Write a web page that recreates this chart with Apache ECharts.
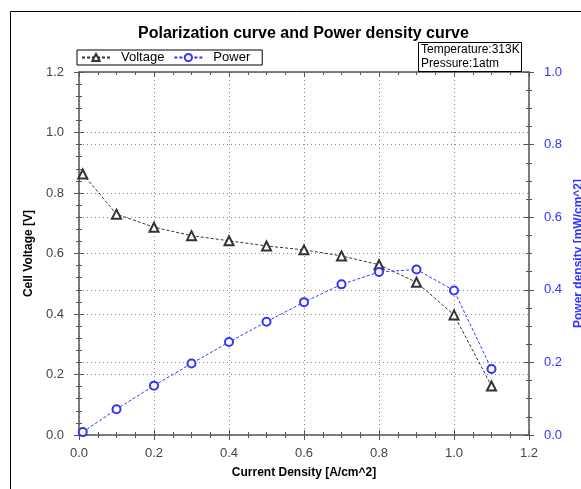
<!DOCTYPE html>
<html style="height: 100%">
<head>
    <meta charset="utf-8">
    <title>Polarization curve</title>
    <script type="text/javascript" src="https://cdn.jsdelivr.net/npm/echarts@6/dist/echarts.min.js"></script>
</head>
<body style="height: 100%; margin: 0; background: #fff">
    <div id="container" style="width: 581px; height: 489px"></div>
    <script type="text/javascript">
        // current density [A/cm^2]
        var current = [0.01, 0.1, 0.2, 0.3, 0.4, 0.5, 0.6, 0.7, 0.8, 0.9, 1.0, 1.1];
        // cell voltage [V]
        var voltage = [0.863, 0.73, 0.687, 0.659, 0.642, 0.625, 0.612, 0.592, 0.563, 0.505, 0.397, 0.162];
        // power density [mW/cm^2]
        var power = [0.008, 0.071, 0.136, 0.197, 0.256, 0.312, 0.366, 0.415, 0.449, 0.456, 0.398, 0.182];

        var font = 'Liberation Sans, Arial, sans-serif';
        var axisColor = '#555';
        var gridLine = { show: true, lineStyle: { color: '#888', type: [1, 3], width: 1 } };

        function pairs(xs, ys) {
            var out = [];
            for (var i = 0; i < xs.length; i++) out.push([xs[i], ys[i]]);
            return out;
        }

        // base x axis: inside ticks + labels; extra copies give the crossing ticks and top frame
        function xAx(pos, inside, main) {
            return {
                type: 'value', min: 0, max: 1.2, interval: 0.2, position: pos,
                axisLine: { show: main || pos === 'top', onZero: false, lineStyle: { color: axisColor, width: 1.5 } },
                axisTick: { show: true, inside: inside, length: 5, lineStyle: { color: axisColor } },
                minorTick: { show: true, splitNumber: 4, length: 3, lineStyle: { color: axisColor } },
                axisLabel: {
                    show: !!main, margin: 12, color: '#444', fontSize: 13, fontFamily: font,
                    formatter: function (v) { return v.toFixed(1); }
                },
                splitLine: main ? gridLine : { show: false },
                name: main ? 'Current Density [A/cm^2]' : '',
                nameLocation: 'middle', nameGap: 32,
                nameTextStyle: { color: '#000', fontWeight: 'bold', fontSize: 12, fontFamily: font }
            };
        }

        function yAx(pos, max, minor, inside, main, color, name, gap) {
            return {
                type: 'value', min: 0, max: max, interval: 0.2, position: pos,
                axisLine: { show: !!main, onZero: false, lineStyle: { color: axisColor, width: 1.5 } },
                axisTick: { show: true, inside: inside, length: 5, lineStyle: { color: axisColor } },
                minorTick: { show: true, splitNumber: minor, length: 3, lineStyle: { color: axisColor } },
                axisLabel: {
                    show: !!main, margin: 15, color: color, fontSize: 13, fontFamily: font,
                    formatter: function (v) { return v.toFixed(1); }
                },
                splitLine: main ? gridLine : { show: false },
                name: main ? name : '',
                nameLocation: 'middle', nameGap: gap,
                nameTextStyle: { color: color === '#444' ? '#000' : color, fontWeight: 'bold', fontSize: 12, fontFamily: font }
            };
        }

        var myChart = echarts.init(document.getElementById('container'));
        var option = {
            animation: false,
            title: [{
                text: 'Polarization curve and Power density curve',
                left: 133, top: 21,
                textStyle: { fontSize: 16, fontWeight: 'bold', color: '#000', fontFamily: font }
            }, {
                text: 'Temperature:313K\nPressure:1atm',
                left: 418, top: 42,
                padding: [1, 2, 1, 3],
                borderColor: '#000', borderWidth: 1,
                textStyle: { fontSize: 12, fontWeight: 'normal', color: '#000', fontFamily: font, lineHeight: 14 }
            }],
            legend: {
                left: 77, top: 50,
                padding: [1, 12, 1, 4],
                borderColor: '#000', borderWidth: 1,
                itemWidth: 28, itemHeight: 9, itemGap: 9,
                textStyle: { fontSize: 13, color: '#000', fontFamily: font, padding: [0, 0, 0, 6] },
                data: ['Voltage', 'Power']
            },
            graphic: [{
                type: 'rect', silent: true,
                shape: { x: 10.5, y: 11.5, width: 700, height: 600 },
                style: { fill: 'none', stroke: '#000', lineWidth: 1 }
            }],
            grid: { left: 79, right: 52, top: 72, bottom: 54, containLabel: false, outerBoundsMode: 'none' },
            xAxis: [xAx('bottom', true, true), xAx('bottom', false, false), xAx('top', true, false)],
            yAxis: [
                yAx('left', 1.2, 5, true, true, '#444', 'Cell Voltage [V]', 44),
                yAx('right', 1.0, 4, true, true, '#3333ff', 'Power density [mW/cm^2]', 41),
                yAx('left', 1.2, 5, false, false, '#444', '', 0),
                yAx('right', 1.0, 4, false, false, '#3333ff', '', 0)
            ],
            series: [{
                name: 'Voltage', type: 'line', xAxisIndex: 0, yAxisIndex: 0,
                symbol: 'emptyTriangle', symbolSize: 9,
                itemStyle: { color: '#333', borderWidth: 0.8 },
                lineStyle: { color: '#333', width: 1, type: [3, 2] },
                data: pairs(current, voltage)
            }, {
                name: 'Power', type: 'line', xAxisIndex: 0, yAxisIndex: 1,
                symbol: 'emptyCircle', symbolSize: 8,
                itemStyle: { color: '#3333ff', borderWidth: 1 },
                lineStyle: { color: '#3333ff', width: 1, type: [3, 2] },
                data: pairs(current, power)
            }]
        };
        myChart.setOption(option);
    </script>
</body>
</html>
